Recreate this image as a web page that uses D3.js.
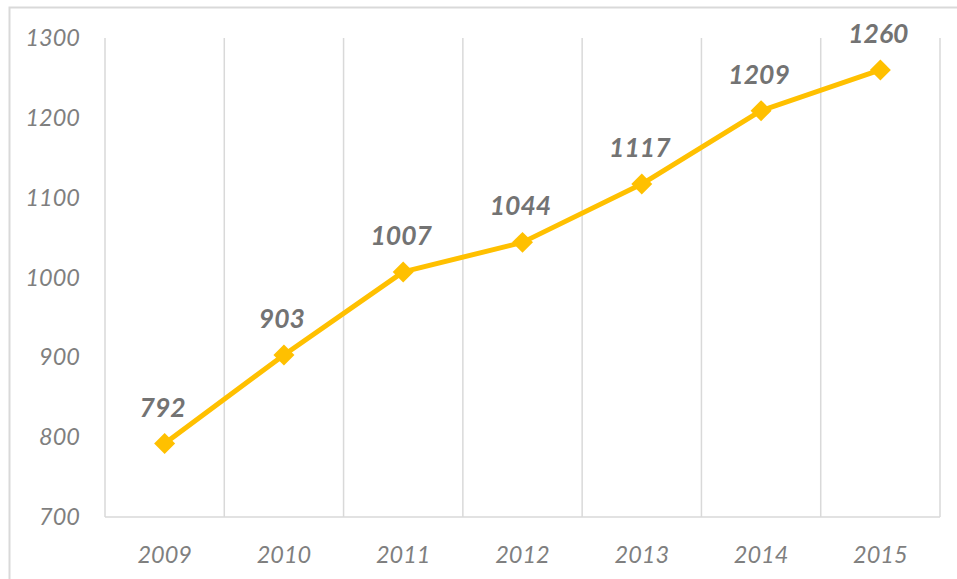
<html><head>
<script src="https://cdnjs.cloudflare.com/ajax/libs/d3/7.8.5/d3.min.js"></script>
<style>
  body { margin: 0; background: #fff; }
  .tick-label { font-family: 'Lato'; font-style: italic; font-size: 23.5px; fill: #7f7f7f; }
  .data-label { font-family: 'Lato'; font-style: italic; font-weight: 700; font-size: 26.5px; fill: #737373; }
</style>
</head>
<body>
<svg id="chart" width="957" height="579"></svg>
<script>
  const years = ["2009", "2010", "2011", "2012", "2013", "2014", "2015"];
  const values = [792, 903, 1007, 1044, 1117, 1209, 1260];
  const yTicks = [700, 800, 900, 1000, 1100, 1200, 1300];

  const svg = d3.select("#chart");
  const margin = {top: 38, right: 17, bottom: 62, left: 105};
  const width = +svg.attr("width");
  const height = +svg.attr("height");
  const chartWidth = width - margin.left - margin.right;
  const chartHeight = height - margin.top - margin.bottom;

  // chart border
  svg.append("rect")
     .attr("x", 9.5).attr("y", 7.5)
     .attr("width", 1000).attr("height", 700)
     .attr("fill", "none").attr("stroke", "#d9d9d9").attr("stroke-width", 2);

  const g = svg.append("g").attr("transform", `translate(${margin.left},${margin.top})`);

  const xScale = d3.scaleBand().domain(years).range([0, chartWidth]);
  const yScale = d3.scaleLinear().domain([700, 1300]).range([chartHeight, 0]);

  // vertical gridlines at category boundaries
  const bounds = years.map(d => xScale(d)).concat([chartWidth]);
  g.selectAll("line.grid").data(bounds)
    .join("line")
    .attr("class", "grid")
    .attr("x1", d => d).attr("x2", d => d)
    .attr("y1", 0).attr("y2", chartHeight)
    .attr("stroke", "#d9d9d9").attr("stroke-width", 1.5);

  // bottom axis line
  g.append("line")
    .attr("x1", 0).attr("x2", chartWidth)
    .attr("y1", chartHeight).attr("y2", chartHeight)
    .attr("stroke", "#d9d9d9").attr("stroke-width", 1.5);

  // y labels
  let leftAxis = d3.axisLeft(yScale).tickValues(yTicks).tickFormat(d3.format("d")).tickSize(0).tickPadding(25);
  const yAxis = g.append("g").call(leftAxis);
  yAxis.select(".domain").remove();
  yAxis.selectAll("text").attr("class", "tick-label").attr("fill", null);

  // x labels
  let bottomAxis = d3.axisBottom(xScale).tickSize(0).tickPadding(29);
  const xAxis = g.append("g").attr("transform", `translate(0,${chartHeight})`).call(bottomAxis);
  xAxis.select(".domain").remove();
  xAxis.selectAll("text").attr("class", "tick-label").attr("fill", null);

  const cx = (d, i) => xScale(years[i]) + xScale.bandwidth() / 2;

  const line = d3.line()
    .x((d, i) => cx(d, i))
    .y(d => yScale(d));

  g.append("path").datum(values)
    .attr("d", line)
    .attr("fill", "none")
    .attr("stroke", "#ffc000")
    .attr("stroke-width", 5)
    .attr("stroke-linejoin", "round");

  g.selectAll("path.marker").data(values)
    .join("path")
    .attr("class", "marker")
    .attr("d", d3.symbol().type(d3.symbolSquare).size(220))
    .attr("transform", (d, i) => `translate(${cx(d, i)},${yScale(d)}) rotate(45)`)
    .attr("fill", "#ffc000");

  g.selectAll("text.data-label").data(values)
    .join("text")
    .attr("class", "data-label")
    .attr("text-anchor", "middle")
    .attr("x", (d, i) => cx(d, i) - 2)
    .attr("y", d => yScale(d) - 27)
    .text(d => d);
</script>
</body>
</html>
